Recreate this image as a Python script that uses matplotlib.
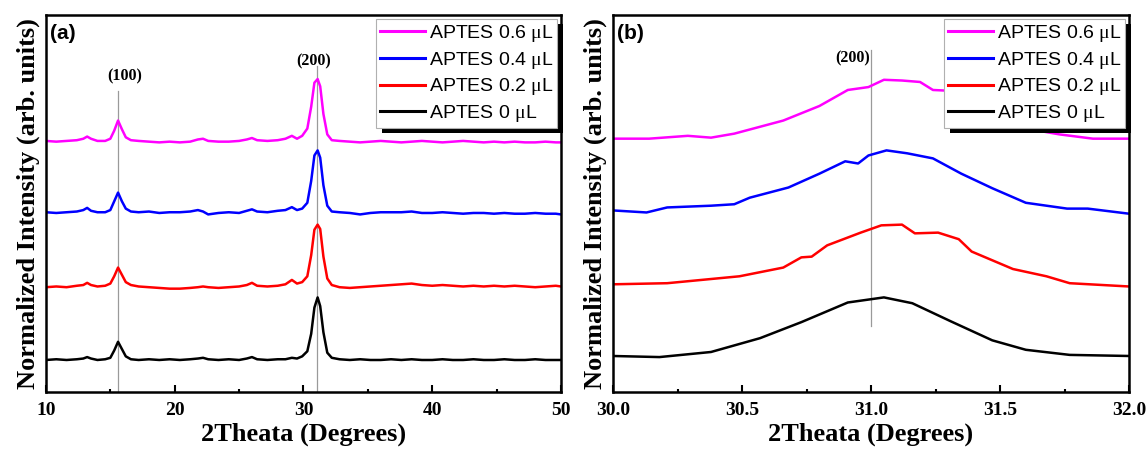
import matplotlib
matplotlib.use("Agg")
import matplotlib.pyplot as plt
from matplotlib.patches import Rectangle
from matplotlib.ticker import MultipleLocator

plt.rcParams['mathtext.fontset'] = 'custom'
plt.rcParams['mathtext.rm'] = 'Liberation Serif'

labels = ['APTES 0 $\\mathrm{\\mu}$L', 'APTES 0.2 $\\mathrm{\\mu}$L',
          'APTES 0.4 $\\mathrm{\\mu}$L', 'APTES 0.6 $\\mathrm{\\mu}$L']
colors = ['black', 'red', 'blue', 'magenta']
offsets = [0, 1, 2, 3]

# panel (a) : 10 - 50 deg
xa = [10.0, 10.8, 11.6, 12.4, 12.9, 13.2, 13.5, 14.0, 14.6, 15.0,
      15.3, 15.6, 15.9, 16.2, 16.6, 17.2, 18.0, 18.8, 19.6, 20.4,
      21.2, 21.8, 22.2, 22.6, 23.4, 24.2, 25.0, 25.6, 26.0, 26.4,
      27.2, 28.0, 28.6, 29.1, 29.5, 29.9, 30.3, 30.6, 30.85, 31.1,
      31.3, 31.55, 31.85, 32.2, 32.8, 33.6, 34.4, 35.2, 36.0, 36.8,
      37.6, 38.4, 39.2, 40.0, 40.8, 41.6, 42.4, 43.2, 44.0, 44.8,
      45.6, 46.4, 47.2, 48.0, 48.8, 49.6, 50.0]
ya_0 = [0.00, 0.01, 0.00, 0.01, 0.02, 0.04, 0.02, 0.00, 0.01, 0.03,
        0.13, 0.25, 0.15, 0.05, 0.01, 0.00, 0.01, 0.00, 0.01, 0.00,
        0.01, 0.02, 0.03, 0.01, 0.00, 0.01, 0.00, 0.02, 0.04, 0.01,
        0.00, 0.01, 0.01, 0.03, 0.02, 0.05, 0.12, 0.36, 0.72, 0.86,
        0.74, 0.38, 0.10, 0.03, 0.01, 0.00, 0.01, 0.00, 0.00, 0.01,
        0.00, 0.01, 0.00, 0.00, 0.01, 0.00, 0.00, 0.01, 0.00, 0.00,
        0.01, 0.00, 0.00, 0.01, 0.00, 0.00, 0.00]
ya_02 = [0.00, 0.01, 0.00, 0.02, 0.03, 0.06, 0.03, 0.01, 0.02, 0.05,
         0.15, 0.27, 0.17, 0.07, 0.03, 0.01, 0.00, -0.01, -0.02, -0.02,
         -0.01, 0.00, 0.01, 0.00, -0.01, 0.00, 0.01, 0.03, 0.06, 0.02,
         0.01, 0.02, 0.04, 0.10, 0.05, 0.07, 0.15, 0.44, 0.79, 0.86,
         0.80, 0.42, 0.12, 0.03, 0.00, -0.01, 0.00, 0.01, 0.02, 0.03,
         0.04, 0.05, 0.03, 0.02, 0.03, 0.02, 0.01, 0.02, 0.01, 0.02,
         0.01, 0.02, 0.01, 0.00, 0.01, 0.02, 0.01]
ya_04 = [0.03, 0.02, 0.03, 0.04, 0.06, 0.09, 0.05, 0.03, 0.03, 0.06,
         0.18, 0.30, 0.18, 0.08, 0.04, 0.03, 0.04, 0.02, 0.03, 0.03,
         0.04, 0.06, 0.04, 0.00, 0.02, 0.03, 0.02, 0.05, 0.07, 0.04,
         0.03, 0.05, 0.06, 0.10, 0.06, 0.08, 0.16, 0.46, 0.81, 0.88,
         0.78, 0.40, 0.12, 0.04, 0.03, 0.02, 0.00, 0.02, 0.03, 0.03,
         0.03, 0.04, 0.02, 0.02, 0.03, 0.02, 0.01, 0.02, 0.02, 0.01,
         0.02, 0.01, 0.01, 0.02, 0.01, 0.01, 0.00]
ya_06 = [0.01, 0.00, 0.01, 0.02, 0.04, 0.07, 0.04, 0.01, 0.01, 0.04,
         0.15, 0.29, 0.17, 0.06, 0.02, 0.01, 0.00, -0.01, 0.00, -0.01,
         0.00, 0.03, 0.04, 0.01, 0.00, 0.00, 0.01, 0.03, 0.05, 0.02,
         0.01, 0.02, 0.04, 0.08, 0.04, 0.08, 0.18, 0.48, 0.81, 0.86,
         0.76, 0.38, 0.10, 0.02, 0.01, 0.00, -0.01, 0.00, 0.01, 0.00,
         -0.01, 0.00, 0.01, 0.00, -0.01, 0.00, 0.01, 0.00, -0.01, 0.00,
         -0.01, 0.00, -0.01, -0.01, 0.00, -0.01, -0.01]

# panel (b) : zoom on the (200) peak
xb_0 = [30.0, 30.18, 30.38, 30.57, 30.73, 30.91, 31.05, 31.16, 31.31, 31.47, 31.6, 31.77, 32.0]
yb_0 = [0.055, 0.04, 0.11, 0.30, 0.52, 0.79, 0.86, 0.78, 0.53, 0.27, 0.14, 0.07, 0.055]
xb_02 = [30.0, 30.21, 30.49, 30.66, 30.73, 30.77, 30.83, 30.96, 31.04, 31.12,
         31.17, 31.26, 31.34, 31.39, 31.55, 31.68, 31.77, 32.0]
yb_02 = [0.04, 0.055, 0.15, 0.27, 0.41, 0.42, 0.575, 0.75, 0.85, 0.86,
         0.74, 0.75, 0.66, 0.49, 0.25, 0.15, 0.055, 0.01]
xb_04 = [30.0, 30.13, 30.21, 30.38, 30.47, 30.53, 30.68, 30.8, 30.9, 30.95,
         30.99, 31.06, 31.14, 31.24, 31.35, 31.47, 31.6, 31.76, 31.84, 32.0]
yb_04 = [0.055, 0.027, 0.096, 0.12, 0.14, 0.23, 0.37, 0.56, 0.73, 0.70,
         0.81, 0.88, 0.84, 0.77, 0.56, 0.36, 0.16, 0.08, 0.08, 0.01]
xb_06 = [30.0, 30.14, 30.29, 30.38, 30.47, 30.66, 30.8, 30.91, 30.99, 31.05,
         31.12, 31.19, 31.24, 31.3, 31.4, 31.5, 31.6, 31.73, 31.86, 32.0]
yb_06 = [0.041, 0.041, 0.08, 0.055, 0.11, 0.29, 0.49, 0.71, 0.75, 0.85,
         0.84, 0.82, 0.71, 0.70, 0.49, 0.32, 0.18, 0.10, 0.041, 0.041]

ya = [ya_0, ya_02, ya_04, ya_06]
xb = [xb_0, xb_02, xb_04, xb_06]
yb = [yb_0, yb_02, yb_04, yb_06]

serif_b = {'family': 'Liberation Serif', 'weight': 'bold'}

fig = plt.figure(figsize=(11.46, 4.51), dpi=100)
ax1 = fig.add_axes([0.0401, 0.1308, 0.4494, 0.8359])
ax2 = fig.add_axes([0.5349, 0.1308, 0.4503, 0.8359])

for i in range(4):
    ax1.plot(xa, [v + offsets[i] for v in ya[i]], color=colors[i], lw=1.8, label=labels[i])
    ax2.plot(xb[i], [v + offsets[i] for v in yb[i]], color=colors[i], lw=1.8, label=labels[i])

# reference lines
ax1.plot([15.6, 15.6], [-0.44, 3.70], color='#9a9a9a', lw=0.9, zorder=0)
ax1.plot([31.05, 31.05], [-0.44, 4.04], color='#9a9a9a', lw=0.9, zorder=0)
ax1.text(16.1, 3.90, '(100)', ha='center', va='center', fontsize=11.5, **serif_b)
ax1.text(30.8, 4.10, '(200)', ha='center', va='center', fontsize=11.5, **serif_b)
ax2.plot([31.0, 31.0], [0.47, 4.26], color='#9a9a9a', lw=0.9, zorder=0)
ax2.text(30.93, 4.14, '(200)', ha='center', va='center', fontsize=11.5, **serif_b)

ax1.set_xlim(10, 50)
ax2.set_xlim(30, 32)
ax1.xaxis.set_major_locator(MultipleLocator(10))
ax1.xaxis.set_minor_locator(MultipleLocator(5))
ax2.xaxis.set_major_locator(MultipleLocator(0.5))
ax2.xaxis.set_minor_locator(MultipleLocator(0.25))
ax2.xaxis.set_major_formatter(plt.FormatStrFormatter('%.1f'))

legends = []
for ax, tag in [(ax1, '(a)'), (ax2, '(b)')]:
    ax.set_ylim(-0.44, 4.74)
    ax.set_yticks([])
    ax.tick_params(axis='x', which='major', direction='in', length=5, width=1.5, pad=7)
    ax.tick_params(axis='x', which='minor', direction='in', length=2.5, width=1.5)
    for lab in ax.get_xticklabels():
        lab.set_fontproperties({'family': 'Liberation Serif', 'weight': 'bold', 'size': 14})
    for sp in ax.spines.values():
        sp.set_linewidth(1.8)
    ax.set_xlabel('2Theata (Degrees)', fontsize=19, labelpad=3, **serif_b)
    ax.set_ylabel('Normalized Intensity (arb. units)', fontsize=19, labelpad=4, **serif_b)
    ax.text(0.008, 0.95, tag, transform=ax.transAxes, ha='left', va='center',
            fontsize=15, fontweight='bold', family='Liberation Sans')
    h, l = ax.get_legend_handles_labels()
    leg = ax.legend(h[::-1], l[::-1], loc='upper right', bbox_to_anchor=(1, 1),
                    borderaxespad=0.2, fancybox=False, framealpha=1, edgecolor='#b0b0b0',
                    prop={'family': 'Liberation Sans', 'size': 14},
                    handlelength=2.3, handletextpad=0.2, labelspacing=0.3,
                    borderpad=0.2)
    leg.get_frame().set_linewidth(0.8)
    for ln in leg.get_lines():
        ln.set_linewidth(2.2)
    legends.append(leg)

fig.canvas.draw()
for ax, leg in zip([ax1, ax2], legends):
    bb = leg.get_window_extent().transformed(fig.transFigure.inverted())
    ax.add_patch(Rectangle((bb.x0 + 6 / 1146, bb.y0 - 5 / 451), bb.width, bb.height,
                           transform=fig.transFigure, facecolor='black', edgecolor='none',
                           zorder=4.5, clip_on=False))

fig.savefig('out.png', dpi=100)
